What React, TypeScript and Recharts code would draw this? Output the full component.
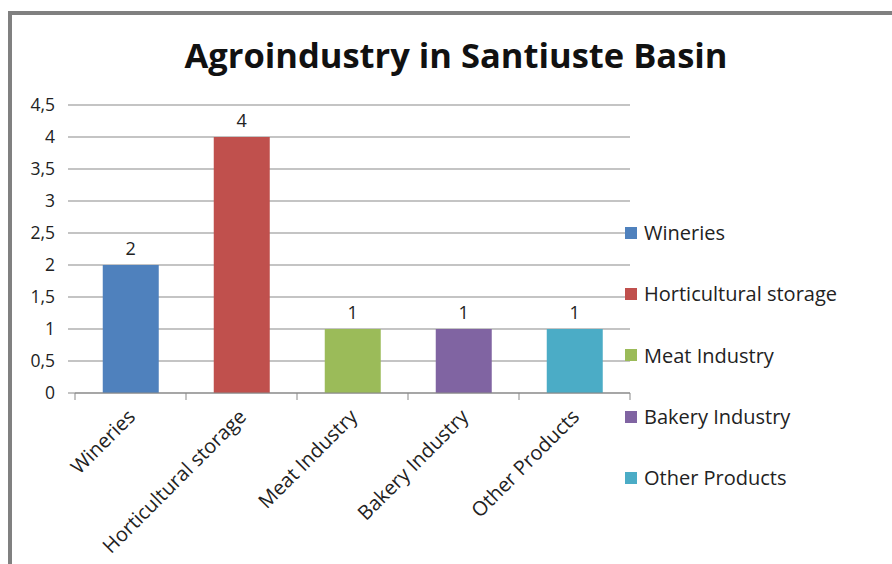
import { Bar, BarChart, CartesianGrid, Cell, LabelList, XAxis, YAxis } from "recharts";

const categories = ["Wineries", "Horticultural storage", "Meat Industry", "Bakery Industry", "Other Products"];
const counts = [2, 4, 1, 1, 1];
const colors = ["#4F81BD", "#C0504D", "#9BBB59", "#8064A2", "#4BACC6"];
const yTicks = [0, 0.5, 1, 1.5, 2, 2.5, 3, 3.5, 4, 4.5];
const slotEdges = [0, 1, 2, 3, 4, 5];

const FONT = "'Open Sans', sans-serif";
const GRID = "#898989";
const INK = "#222";

const data = categories.map((name, i) => ({ name, value: counts[i], slot: i + 0.5 }));

function fmtComma(v: number) {
  return String(v).replace(".", ",");
}

function SlantTick({ x, y, payload }: any) {
  return (
    <g transform={`translate(${x + 6},${y + 16})`}>
      <text x={0} y={0} textAnchor="end" transform="rotate(-45)" fontSize={20} fill={INK} fontFamily={FONT}>
        {payload.value}
      </text>
    </g>
  );
}

export default function App() {
  return (
    <div style={{ position: "fixed", left: 0, top: 0, width: 892, height: 564, background: "#fff", overflow: "hidden" }}>
      <div
        style={{
          position: "absolute",
          left: 8,
          top: 11,
          right: -10,
          bottom: -10,
          borderTop: `4px solid #808080`,
          borderLeft: `4px solid #808080`,
        }}
      />
      <div
        style={{
          position: "absolute",
          left: 0,
          width: 912,
          top: 30,
          textAlign: "center",
          fontFamily: FONT,
          fontWeight: 700,
          fontSize: 34.5,
          color: "#111",
          lineHeight: "50px",
        }}
      >
        Agroindustry in Santiuste Basin
      </div>
      <div style={{ position: "absolute", left: 0, top: 0 }}>
        <BarChart
          width={892}
          height={564}
          data={data}
          margin={{ top: 105, right: 262, left: 15, bottom: 20 }}
          barCategoryGap="25%"
        >
          <CartesianGrid xAxisId="b1" horizontal vertical={false} stroke={GRID} />
          <XAxis
            xAxisId="a0"
            type="number"
            dataKey="slot"
            domain={[0, 5]}
            ticks={slotEdges}
            tickFormatter={() => ""}
            tickSize={7}
            height={1}
            stroke={GRID}
            tickLine={{ stroke: GRID }}
          />
          <XAxis
            xAxisId="b1"
            dataKey="name"
            axisLine={false}
            tickLine={false}
            height={150}
            interval={0}
            tick={<SlantTick />}
          />
          <YAxis
            width={60}
            domain={[0, 4.5]}
            ticks={yTicks}
            tickFormatter={fmtComma}
            axisLine={false}
            tickSize={7}
            tickMargin={13}
            tickLine={{ stroke: GRID }}
            tick={{ fontSize: 17.5, fill: INK, fontFamily: FONT }}
          />
          <Bar xAxisId="b1" dataKey="value" isAnimationActive={false}>
            {data.map((d, i) => (
              <Cell key={d.name} fill={colors[i]} />
            ))}
            <LabelList dataKey="value" position="top" offset={10} fontSize={18} fill={INK} fontFamily={FONT} />
          </Bar>
        </BarChart>
      </div>
      <div style={{ position: "absolute", left: 625, top: 202, fontFamily: FONT, fontSize: 20, color: INK }}>
        {categories.map((name, i) => (
          <div key={name} style={{ display: "flex", alignItems: "center", height: 61.3 }}>
            <span style={{ width: 12, height: 12, background: colors[i], marginRight: 7, flex: "none" }} />
            <span>{name}</span>
          </div>
        ))}
      </div>
    </div>
  );
}
